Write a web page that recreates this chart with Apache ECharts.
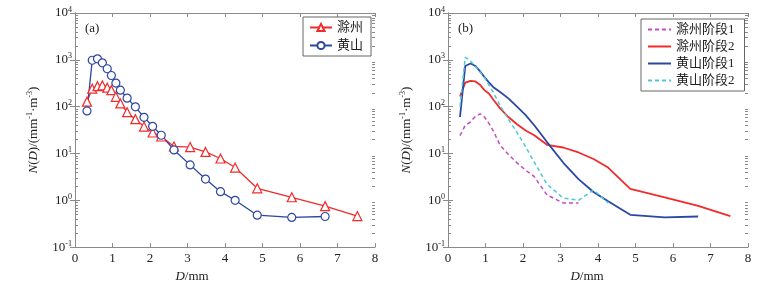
<!DOCTYPE html>
<html>
<head>
<meta charset="utf-8">
<script src="https://cdn.jsdelivr.net/npm/echarts@6/dist/echarts.min.js"></script>
<style>
  html, body { margin: 0; padding: 0; background: #fff; }
  #chart { width: 769px; height: 288px; }
</style>
</head>
<body>
<div id="chart"></div>
<script>
  // 粒径 D (mm)
  const D = [0.32, 0.46, 0.60, 0.73, 0.86, 0.97, 1.09, 1.21, 1.39, 1.61, 1.84,
             2.07, 2.30, 2.64, 3.07, 3.48, 3.88, 4.27, 4.86, 5.78, 6.67, 7.53];

  // (a) 全过程
  const chuzhou = [128, 242, 274, 284, 254, 225, 162, 117, 76, 54, 37.5,
                   28, 23, 14.1, 13.7, 10.8, 7.8, 5.0, 1.8, 1.16, 0.75, 0.46];
  const huangshan = [81, 980, 1050, 863, 644, 463, 318, 225, 152, 99, 59,
                     38, 24.5, 11.9, 5.7, 2.84, 1.53, 1.0, 0.48, 0.43, 0.45];

  // (b) 分阶段
  const chuzhou1 = [24, 40, 47, 62, 70, 60, 44, 30, 15, 9.5, 6.3,
                    4.4, 3.2, 1.3, 0.88, 0.88, null, null, null, 0.43];
  const chuzhou2 = [165, 325, 355, 345, 290, 225, 190, 140, 92, 60, 42,
                    31, 24.5, 15.3, 13.4, 10.5, 7.6, 5.0, 1.76, 1.16, 0.76, 0.46];
  const huangshan1 = [60, 740, 834, 740, 560, 430, 330, 260, 205, 150, 100,
                      66, 40, 17.5, 6.4, 2.84, 1.5, 0.95, 0.49, 0.43, 0.45];
  const huangshan2 = [100, 1130, 950, 720, 540, 420, 290, 200, 105, 54, 28,
                      14, 6.5, 2.2, 1.12, 1.0, 1.65, 0.88];

  const xTicks = [0, 8];
  const yExtent = [0.1, 10000];

  const RED = '#f22a2a';
  const BLUE = '#2b46a3';
  const MAGENTA = '#c24cc2';
  const CYAN = '#4ec8d8';
  const AXIS = '#8a8a8a';
  const SERIF = "'Liberation Serif', 'Noto Sans CJK SC', serif";

  function pairs(vals) {
    return vals.map((v, i) => [D[i], v == null ? '-' : v]);
  }

  // 对数轴次刻度 2..9 x 10^k
  const minorVals = [];
  for (let k = -1; k < 4; k++) {
    for (let m = 2; m <= 9; m++) minorVals.push([0, m * Math.pow(10, k)]);
  }

  const chart = echarts.init(document.getElementById('chart'), null, { renderer: 'canvas' });

  const grids = [
    { left: 75, right: 394, top: 13, bottom: 40 },
    { left: 448, right: 21, top: 13, bottom: 40 }
  ];

  const supRich = {
    s: { fontSize: 8, fontFamily: SERIF, color: '#222', padding: [0, 0, 7, 0] },
    i: { fontSize: 13, fontFamily: SERIF, fontStyle: 'italic', color: '#222' }
  };

  function xAxes(gi, namePad) {
    return [
      {
        gridIndex: gi, type: 'value', min: xTicks[0], max: xTicks[1], interval: 1,
        axisLine: { lineStyle: { color: AXIS } },
        axisTick: { inside: true, length: 4, lineStyle: { color: AXIS } },
        axisLabel: { fontFamily: SERIF, fontSize: 13, color: '#222', margin: 5 },
        splitLine: { show: false },
        name: '{i|D}/mm', nameLocation: 'middle', nameGap: 19,
        nameTextStyle: { fontFamily: SERIF, fontSize: 13, color: '#222', padding: namePad, rich: supRich }
      },
      {
        gridIndex: gi, type: 'value', position: 'top', min: xTicks[0], max: xTicks[1], interval: 1,
        axisLine: { show: true, lineStyle: { color: AXIS } },
        axisTick: { inside: true, length: 4, lineStyle: { color: AXIS } },
        axisLabel: { show: false },
        splitLine: { show: false }
      }
    ];
  }

  function yAxes(gi) {
    return [
      {
        gridIndex: gi, type: 'log', logBase: 10, min: yExtent[0], max: yExtent[1],
        axisLine: { show: true, lineStyle: { color: AXIS } },
        axisTick: { inside: true, length: 5, lineStyle: { color: AXIS } },
        axisLabel: {
          margin: 3, fontFamily: SERIF, fontSize: 13, color: '#222',
          formatter: (v) => '10{s|' + Math.round(Math.log10(v)) + '}',
          rich: supRich
        },
        splitLine: { show: false },
        name: '{i|N}({i|D})/(mm{s|-1}·m{s|-3})', nameLocation: 'middle', nameGap: 34,
        nameTextStyle: { fontFamily: SERIF, fontSize: 13, color: '#222', rich: supRich }
      },
      {
        gridIndex: gi, type: 'log', logBase: 10, min: yExtent[0], max: yExtent[1], position: 'right',
        axisLine: { show: true, lineStyle: { color: AXIS } },
        axisTick: { inside: true, length: 5, lineStyle: { color: AXIS } },
        axisLabel: { show: false },
        splitLine: { show: false }
      }
    ];
  }

  function minorTicks(gi) {
    return {
      type: 'custom', xAxisIndex: gi * 2, yAxisIndex: gi * 2, silent: true, clip: false,
      data: minorVals,
      renderItem: (params, api) => {
        const v = api.value(1);
        const l = api.coord([xTicks[0], v]);
        const r = api.coord([xTicks[1], v]);
        const y = Math.round(l[1]) + 0.5;
        const st = { stroke: AXIS, lineWidth: 1 };
        return {
          type: 'group', children: [
            { type: 'line', shape: { x1: l[0], y1: y, x2: l[0] + 3, y2: y }, style: st },
            { type: 'line', shape: { x1: r[0] - 3, y1: y, x2: r[0], y2: y }, style: st }
          ]
        };
      }
    };
  }

  const lineSeries = (name, gi, vals, color, opts) => Object.assign({
    name: name, type: 'line', xAxisIndex: gi * 2, yAxisIndex: gi * 2,
    data: pairs(vals), showSymbol: false, symbol: 'none',
    lineStyle: { color: color, width: 1.6 },
    itemStyle: { color: color },
    connectNulls: false, animation: false
  }, opts || {});

  const option = {
    backgroundColor: '#fff',
    animation: false,
    title: [
      { text: '(a)', left: 80, top: 17, textStyle: { fontFamily: SERIF, fontSize: 13, fontWeight: 'normal', color: '#222' } },
      { text: '(b)', left: 453, top: 17, textStyle: { fontFamily: SERIF, fontSize: 13, fontWeight: 'normal', color: '#222' } }
    ],
    grid: grids,
    xAxis: xAxes(0, [0, 66, 0, 0]).concat(xAxes(1, [0, 22, 0, 0])),
    yAxis: yAxes(0).concat(yAxes(1)),
    legend: [
      {
        data: ['滁州', '黄山'], orient: 'vertical', left: 303, top: 17,
        backgroundColor: '#fff', borderColor: '#666', borderWidth: 1, borderRadius: 0,
        padding: [4, 8, 4, 6], itemGap: 5, itemWidth: 22, itemHeight: 9,
        textStyle: { fontFamily: SERIF, fontSize: 13, color: '#222' }
      },
      {
        data: ['滁州阶段1', '滁州阶段2', '黄山阶段1', '黄山阶段2'], orient: 'vertical', left: 641, top: 19,
        backgroundColor: '#fff', borderColor: '#666', borderWidth: 1, borderRadius: 0,
        padding: [4, 10, 4, 6], itemGap: 4, itemWidth: 23, itemHeight: 9,
        itemStyle: { color: 'transparent', borderWidth: 0 },
        textStyle: { fontFamily: SERIF, fontSize: 13, color: '#222' }
      }
    ],
    series: [
      minorTicks(0),
      minorTicks(1),
      lineSeries('滁州', 0, chuzhou, RED, {
        showSymbol: true, symbol: 'triangle', symbolSize: 9,
        lineStyle: { color: RED, width: 1.3 },
        itemStyle: { color: '#fff', borderColor: RED, borderWidth: 1.2 }
      }),
      lineSeries('黄山', 0, huangshan, BLUE, {
        showSymbol: true, symbol: 'circle', symbolSize: 8,
        lineStyle: { color: BLUE, width: 1.3 },
        itemStyle: { color: '#fff', borderColor: BLUE, borderWidth: 1.2 }
      }),
      lineSeries('滁州阶段1', 1, chuzhou1, MAGENTA, { lineStyle: { color: MAGENTA, width: 1.5, type: [4, 3] } }),
      lineSeries('滁州阶段2', 1, chuzhou2, RED, { lineStyle: { color: RED, width: 1.8 } }),
      lineSeries('黄山阶段1', 1, huangshan1, BLUE, { lineStyle: { color: BLUE, width: 1.8 } }),
      lineSeries('黄山阶段2', 1, huangshan2, CYAN, { lineStyle: { color: CYAN, width: 1.5, type: [4, 3] } })
    ]
  };

  chart.setOption(option);
</script>
</body>
</html>
